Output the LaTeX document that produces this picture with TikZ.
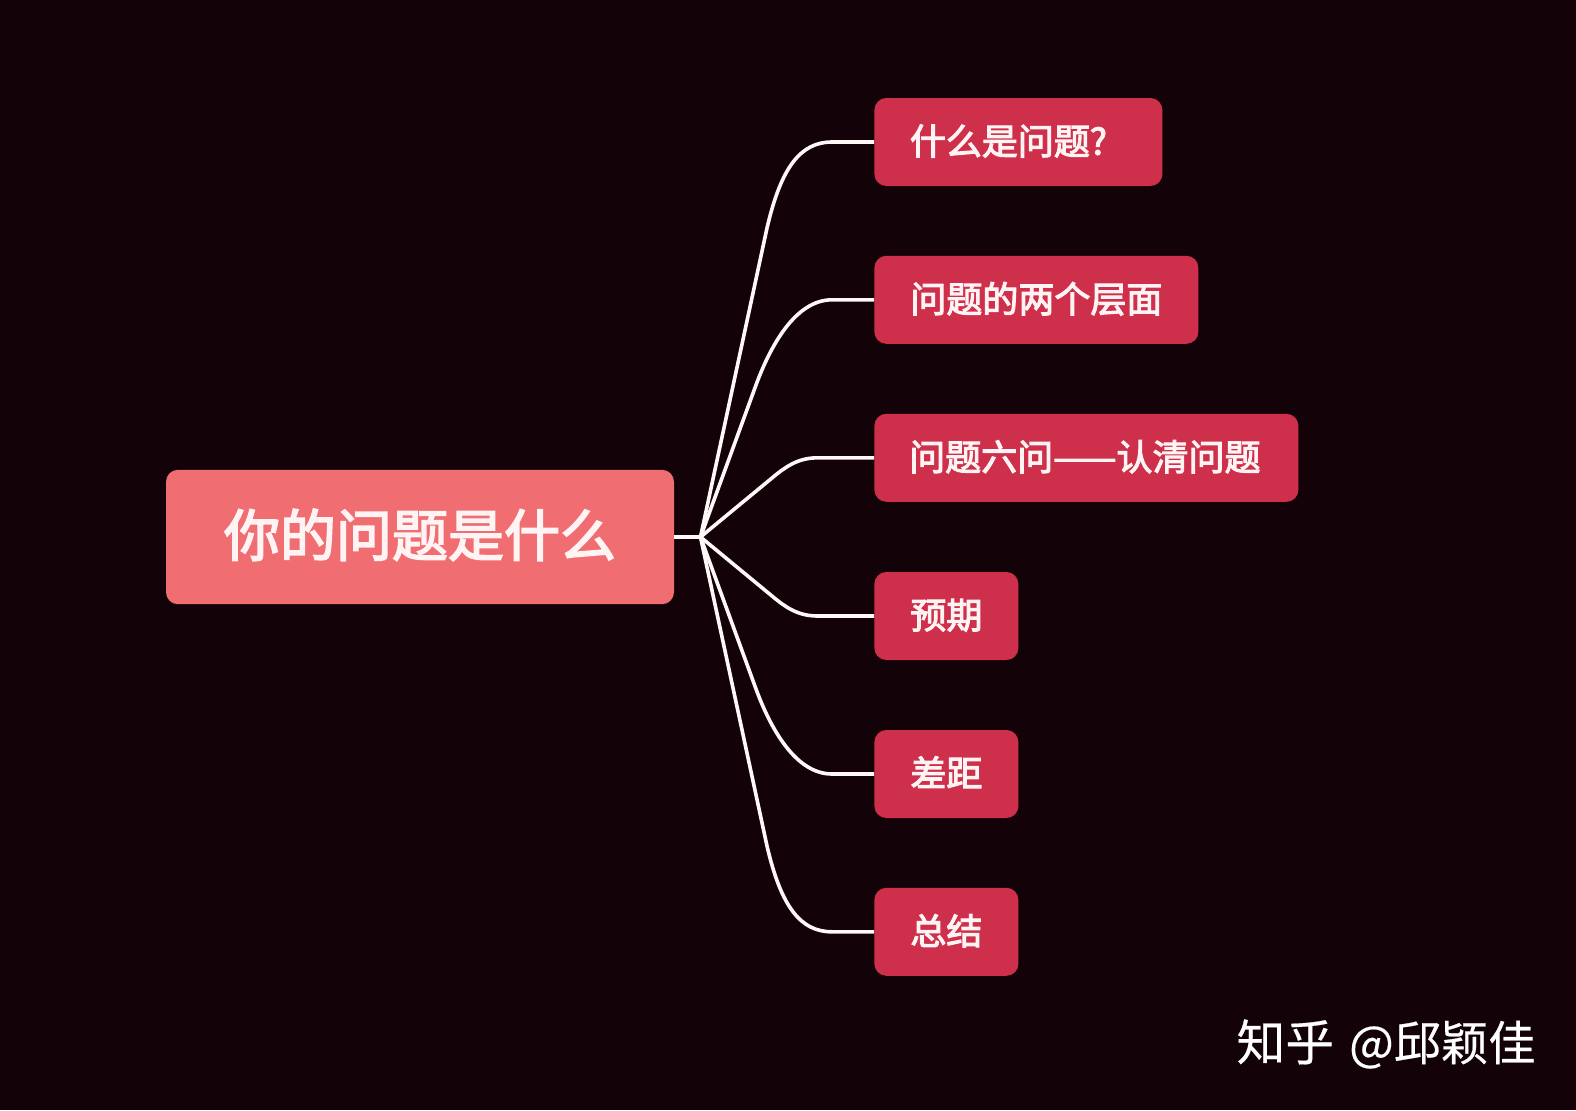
\documentclass[tikz,border=0pt]{standalone}
\usepackage{graphicx}
\usepackage{fontspec}
\setmainfont{Noto Sans CJK SC}[FakeBold=3]
\newfontfamily\markfont{Noto Sans CJK SC}[FakeBold=0.4]
\definecolor{bgc}{HTML}{130308}
\definecolor{rootc}{HTML}{F06E72}
\definecolor{childc}{HTML}{CE2F4A}
\definecolor{textc}{HTML}{FFF3F3}
\definecolor{linec}{HTML}{FFF8F6}
\newcommand\lift[1]{\raisebox{-6.3pt}[0pt][0pt]{#1}}
\tikzset{
  x=0.5pt,y=-0.5pt,
  rootbox/.style={fill=rootc,rounded corners=6pt,inner sep=0pt,minimum width=254pt,minimum height=67.2pt,text=textc,font=\fontsize{28}{34}\selectfont},
  childbox/.style={fill=childc,rounded corners=6pt,inner sep=0pt,minimum height=44pt,anchor=west,text=textc,font=\fontsize{18}{22}\selectfont},
  link/.style={draw=linec,line width=1.8pt,line join=round},
}
\begin{document}
\begin{tikzpicture}
\useasboundingbox (0,0) rectangle (1576,1110);
\fill[bgc] (0,0) rectangle (1576,1110);
\node[rootbox] (root) at (420,537) {\raisebox{-9.6pt}[0pt][0pt]{你的问题是什么}};
\coordinate (hub) at (700.5,537);
\node[childbox,minimum width=144pt] (c1) at (874,142) {\lift{什么是问题?}\kern 10pt\relax};
\node[childbox,minimum width=162pt] (c2) at (874,299.8) {\lift{问题的两个层面}};
\node[childbox,minimum width=212pt] (c3) at (874,457.8) {\lift{问题六问\scalebox{1.05}[1]{——}认清问题}\kern 1.5pt\relax};
\node[childbox,minimum width=72pt] (c4) at (874,616) {\lift{预期}};
\node[childbox,minimum width=72pt] (c5) at (874,774) {\lift{差距}};
\node[childbox,minimum width=72pt] (c6) at (874,931.8) {\lift{总结}};
\draw[link] (root.east) -- (hub);
\draw[link] (hub) -- (767,228) .. controls (781,168) and (800,142) .. (832,142) -- (c1.west);
\draw[link] (hub) -- (756,385) .. controls (770,347) and (795,299.8) .. (832,299.8) -- (c2.west);
\draw[link] (hub) -- (772,478) .. controls (788,464.5) and (800,457.8) .. (818,457.8) -- (c3.west);
\draw[link] (hub) -- (772,596) .. controls (788,609.5) and (800,616) .. (818,616) -- (c4.west);
\draw[link] (hub) -- (756,689) .. controls (770,727) and (795,774) .. (832,774) -- (c5.west);
\draw[link] (hub) -- (767,846) .. controls (781,906) and (800,931.8) .. (832,931.8) -- (c6.west);
\node[text=white,inner sep=0pt,font=\markfont\fontsize{23.6}{28}\selectfont] (mark) at (1386,1044) {{\fontsize{24.4}{28}\selectfont 知乎}\kern 7.5pt @邱颖佳};
\end{tikzpicture}
\end{document}
